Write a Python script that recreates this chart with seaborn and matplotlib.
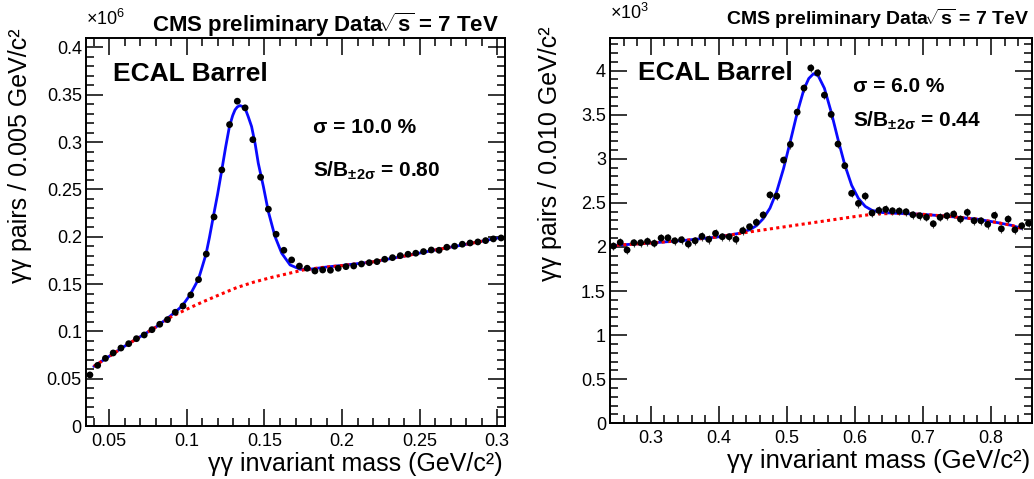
import matplotlib
matplotlib.use("Agg")
import matplotlib.pyplot as plt
from matplotlib.ticker import MultipleLocator, FuncFormatter
import seaborn as sns

# =============================================================================
# Datos
# =============================================================================
# Panel izquierdo: pi0, bins de 0.005 GeV/c2, valores en unidades de 1e6
PI0_MASS = [0.0375, 0.0425, 0.0475, 0.0525, 0.0575, 0.0625, 0.0675, 0.0725,
            0.0775, 0.0825, 0.0875, 0.0925, 0.0975, 0.1025, 0.1075, 0.1125,
            0.1175, 0.1225, 0.1275, 0.1325, 0.1375, 0.1425, 0.1475, 0.1525,
            0.1575, 0.1625, 0.1675, 0.1725, 0.1775, 0.1825, 0.1875, 0.1925,
            0.1975, 0.2025, 0.2075, 0.2125, 0.2175, 0.2225, 0.2275, 0.2325,
            0.2375, 0.2425, 0.2475, 0.2525, 0.2575, 0.2625, 0.2675, 0.2725,
            0.2775, 0.2825, 0.2875, 0.2925, 0.2975, 0.3025]
PI0_COUNTS = [0.0540, 0.0641, 0.0715, 0.0772, 0.0824, 0.0870, 0.0923, 0.0962,
              0.1018, 0.1075, 0.1124, 0.1202, 0.1268, 0.1385, 0.1547, 0.1817,
              0.2209, 0.2706, 0.3185, 0.3432, 0.3362, 0.3026, 0.2629, 0.2291,
              0.2026, 0.1857, 0.1755, 0.1690, 0.1667, 0.1638, 0.1649, 0.1646,
              0.1667, 0.1684, 0.1691, 0.1712, 0.1726, 0.1737, 0.1762, 0.1779,
              0.1800, 0.1815, 0.1826, 0.1843, 0.1860, 0.1857, 0.1889, 0.1900,
              0.1921, 0.1934, 0.1945, 0.1959, 0.1977, 0.1987]

PI0_FIT_MASS = [0.040, 0.060, 0.080, 0.088, 0.0925, 0.097, 0.102, 0.1074,
                0.1096, 0.1123, 0.1145, 0.117, 0.1198, 0.1225, 0.125, 0.1274,
                0.1295, 0.131, 0.1325, 0.1342, 0.136, 0.1379, 0.1395, 0.1417,
                0.144, 0.146, 0.1493, 0.1525, 0.1568, 0.1611, 0.1665, 0.173,
                0.180, 0.190, 0.200, 0.220, 0.240, 0.260, 0.280, 0.300]
PI0_FIT = [0.0630, 0.0845, 0.1045, 0.1145, 0.1205, 0.1270, 0.1385, 0.1550,
           0.1667, 0.1815, 0.1990, 0.2210, 0.2450, 0.2706, 0.2950, 0.3164,
           0.3280, 0.3340, 0.3372, 0.3386, 0.3375, 0.3340, 0.3270, 0.3164,
           0.2980, 0.2777, 0.2530, 0.2265, 0.2001, 0.1826, 0.1702, 0.1656,
           0.1658, 0.1680, 0.1697, 0.1735, 0.1795, 0.1860, 0.1920, 0.1985]

PI0_BKG_MASS = [0.040, 0.050, 0.060, 0.070, 0.080, 0.090, 0.100, 0.110, 0.120,
                0.132, 0.143, 0.154, 0.165, 0.175, 0.187, 0.200, 0.220, 0.240,
                0.260, 0.280, 0.300]
PI0_BKG = [0.0630, 0.0735, 0.0845, 0.0945, 0.1045, 0.1155, 0.1235, 0.1310,
           0.1380, 0.1462, 0.1520, 0.1568, 0.1610, 0.1649, 0.1675, 0.1695,
           0.1735, 0.1795, 0.1860, 0.1920, 0.1985]

# Panel derecho: eta, bins de 0.010 GeV/c2, valores en unidades de 1e3
ETA_MASS = [0.245, 0.255, 0.265, 0.275, 0.285, 0.295, 0.305, 0.315, 0.325,
            0.335, 0.345, 0.355, 0.365, 0.375, 0.385, 0.395, 0.405, 0.415,
            0.425, 0.435, 0.445, 0.455, 0.465, 0.475, 0.485, 0.495, 0.505,
            0.515, 0.525, 0.535, 0.545, 0.555, 0.565, 0.575, 0.585, 0.595,
            0.605, 0.615, 0.625, 0.635, 0.645, 0.655, 0.665, 0.675, 0.685,
            0.695, 0.705, 0.715, 0.725, 0.735, 0.745, 0.755, 0.765, 0.775,
            0.785, 0.795, 0.805, 0.815, 0.825, 0.835, 0.845, 0.855]
ETA_COUNTS = [2.010, 2.052, 1.965, 2.048, 2.048, 2.063, 2.041, 2.101, 2.104,
              2.070, 2.082, 2.033, 2.070, 2.120, 2.086, 2.154, 2.116, 2.116,
              2.086, 2.185, 2.229, 2.279, 2.363, 2.590, 2.577, 2.985, 3.163,
              3.529, 3.802, 4.030, 3.975, 3.722, 3.503, 3.167, 2.921, 2.608,
              2.494, 2.577, 2.385, 2.414, 2.426, 2.410, 2.407, 2.399, 2.365,
              2.354, 2.336, 2.263, 2.336, 2.354, 2.373, 2.316, 2.392, 2.297,
              2.297, 2.256, 2.358, 2.206, 2.316, 2.195, 2.240, 2.268]
ETA_ERR = 0.047

ETA_FIT_MASS = [0.25, 0.30, 0.35, 0.40, 0.43, 0.445, 0.455, 0.465, 0.475,
                0.485, 0.495, 0.505, 0.515, 0.525, 0.532, 0.539, 0.546, 0.555,
                0.565, 0.575, 0.585, 0.595, 0.605, 0.615, 0.625, 0.64, 0.66,
                0.70, 0.74, 0.78, 0.81, 0.83, 0.845]
ETA_FIT = [2.020, 2.045, 2.075, 2.115, 2.155, 2.195, 2.240, 2.320, 2.440,
           2.630, 2.890, 3.200, 3.520, 3.790, 3.910, 3.965, 3.940, 3.800,
           3.530, 3.220, 2.930, 2.700, 2.550, 2.460, 2.415, 2.390, 2.382,
           2.370, 2.345, 2.315, 2.275, 2.245, 2.210]

ETA_BKG_MASS = [0.25, 0.30, 0.35, 0.40, 0.44, 0.48, 0.52, 0.56, 0.60, 0.63,
                0.66, 0.70, 0.74, 0.78, 0.81, 0.83, 0.845]
ETA_BKG = [2.020, 2.045, 2.075, 2.115, 2.165, 2.210, 2.255, 2.300, 2.345,
           2.375, 2.380, 2.370, 2.345, 2.315, 2.275, 2.245, 2.210]

# =============================================================================
# Estilo
# =============================================================================
sns.set_theme(style="ticks")
plt.rcParams["font.family"] = ["Liberation Sans", "DejaVu Sans"]
plt.rcParams["mathtext.fontset"] = "custom"
plt.rcParams["mathtext.rm"] = "Liberation Sans:bold"
plt.rcParams["mathtext.it"] = "Liberation Sans:bold"
plt.rcParams["mathtext.bf"] = "Liberation Sans:bold"
for key in ["text.color", "axes.labelcolor", "xtick.color", "ytick.color",
            "axes.edgecolor"]:
    plt.rcParams[key] = "black"

FIT_COLOR = "#0a0aff"
BKG_COLOR = "#ff0000"
TITLE = r"CMS preliminary Data$\!\sqrt{s}$ = 7 TeV"


def style_axes(ax, xlim, ylim, xmaj, xmin, ymaj, ymin):
    ax.set_xlim(*xlim)
    ax.set_ylim(*ylim)
    ax.xaxis.set_major_locator(MultipleLocator(xmaj))
    ax.xaxis.set_minor_locator(MultipleLocator(xmin))
    ax.yaxis.set_major_locator(MultipleLocator(ymaj))
    ax.yaxis.set_minor_locator(MultipleLocator(ymin))
    fmt = FuncFormatter(lambda v, p: f"{v:g}")
    ax.xaxis.set_major_formatter(fmt)
    ax.yaxis.set_major_formatter(fmt)
    ax.tick_params(which="both", direction="in", top=True, right=True,
                   colors="black", labelsize=13, width=1.1)
    ax.tick_params(which="major", length=12)
    ax.tick_params(which="minor", length=6)
    ax.tick_params(axis="x", pad=5)
    ax.tick_params(axis="y", pad=3)
    for sp in ax.spines.values():
        sp.set_linewidth(1.4)
        sp.set_color("black")


def draw_panel(ax, mass, counts, fit_m, fit, bkg_m, bkg, yerr=None):
    sns.lineplot(x=fit_m, y=fit, ax=ax, color=FIT_COLOR, linewidth=2.0,
                 sort=False, estimator=None, zorder=2)
    sns.lineplot(x=bkg_m, y=bkg, ax=ax, color=BKG_COLOR, linewidth=2.2,
                 sort=False, estimator=None, zorder=3)
    ax.lines[-1].set_linestyle((0, (1, 1.1)))
    if yerr is not None:
        ax.errorbar(mass, counts, yerr=yerr, fmt="none", ecolor="#444444",
                    elinewidth=0.8, capsize=0, zorder=4)
    sns.scatterplot(x=mass, y=counts, ax=ax, color="black", s=24,
                    edgecolor="none", zorder=5)


fig = plt.figure(figsize=(10.34, 4.79), dpi=100)

# --- Panel izquierdo ---
ax1 = fig.add_axes([0.0832, 0.1106, 0.4052, 0.8101])
draw_panel(ax1, PI0_MASS, PI0_COUNTS, PI0_FIT_MASS, PI0_FIT,
           PI0_BKG_MASS, PI0_BKG)
style_axes(ax1, (0.035, 0.305), (0, 0.41), 0.05, 0.01, 0.05, 0.01)
ax1.set_xlabel("γγ invariant mass (GeV/c²)", fontsize=18, loc="right")
ax1.set_ylabel("γγ pairs / 0.005 GeV/c²", fontsize=18, loc="top")
ax1.xaxis.set_label_coords(0.995, -0.068)
ax1.yaxis.set_label_coords(-0.13, 1.026)
ax1.text(0.0, 1.033, r"×10$^{\mathregular{6}}$", transform=ax1.transAxes,
         fontsize=13, ha="left", va="baseline")
ax1.text(0.986, 1.016, TITLE, transform=ax1.transAxes, fontsize=16,
         fontweight="bold", ha="right", va="baseline")
ax1.text(0.064, 0.889, "ECAL Barrel", transform=ax1.transAxes, fontsize=19,
         fontweight="bold", ha="left", va="baseline")
ax1.text(0.542, 0.755, "σ = 10.0 %", transform=ax1.transAxes, fontsize=15,
         fontweight="bold", ha="left", va="baseline")
ax1.text(0.542, 0.642, r"S/B$_{\pm2\sigma}$ = 0.80", transform=ax1.transAxes,
         fontsize=15, fontweight="bold", ha="left", va="baseline")

# --- Panel derecho ---
ax2 = fig.add_axes([0.590, 0.1163, 0.408, 0.8044])
draw_panel(ax2, ETA_MASS, ETA_COUNTS, ETA_FIT_MASS, ETA_FIT,
           ETA_BKG_MASS, ETA_BKG, yerr=ETA_ERR)
style_axes(ax2, (0.24, 0.86), (0, 4.37), 0.1, 0.02, 0.5, 0.1)
ax2.set_xlabel("γγ invariant mass (GeV/c²)", fontsize=18.5, loc="right")
ax2.set_ylabel("γγ pairs / 0.010 GeV/c²", fontsize=18, loc="top")
ax2.xaxis.set_label_coords(0.995, -0.068)
ax2.yaxis.set_label_coords(-0.115, 1.03)
ax2.text(0.0, 1.05, r"×10$^{\mathregular{3}}$", transform=ax2.transAxes,
         fontsize=13, ha="left", va="baseline")
ax2.text(0.995, 1.034, TITLE, transform=ax2.transAxes, fontsize=14,
         fontweight="bold", ha="right", va="baseline")
ax2.text(0.066, 0.890, "ECAL Barrel", transform=ax2.transAxes, fontsize=19,
         fontweight="bold", ha="left", va="baseline")
ax2.text(0.576, 0.859, "σ = 6.0 %", transform=ax2.transAxes, fontsize=15,
         fontweight="bold", ha="left", va="baseline")
ax2.text(0.576, 0.771, r"S/B$_{\pm2\sigma}$ = 0.44", transform=ax2.transAxes,
         fontsize=15, fontweight="bold", ha="left", va="baseline")

fig.savefig("out.png", dpi=100)
plt.close(fig)
